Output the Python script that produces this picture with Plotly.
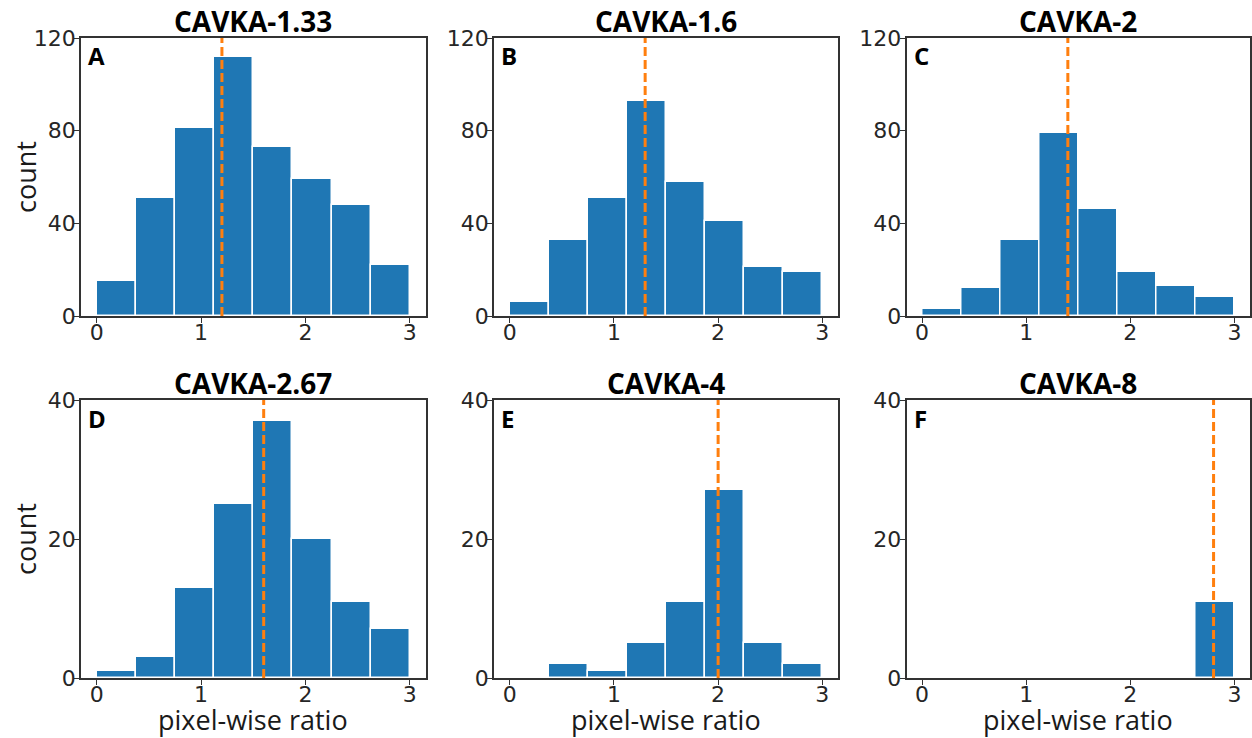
import numpy as np
import plotly.graph_objects as go

# Histogram bin edges shared by every panel (8 bins over 0..3)
bin_edges = np.linspace(0, 3, 9)

titles = ["CAVKA-1.33", "CAVKA-1.6", "CAVKA-2", "CAVKA-2.67", "CAVKA-4", "CAVKA-8"]
panel_letters = ["A", "B", "C", "D", "E", "F"]

counts_a = [15, 51, 81, 112, 73, 59, 48, 22]
counts_b = [6, 33, 51, 93, 58, 41, 21, 19]
counts_c = [3, 12, 33, 79, 46, 19, 13, 8]
counts_d = [1, 3, 13, 25, 37, 20, 11, 7]
counts_e = [0, 2, 1, 5, 11, 27, 5, 2]
counts_f = [0, 0, 0, 0, 0, 0, 0, 11]
all_counts = [counts_a, counts_b, counts_c, counts_d, counts_e, counts_f]

medians = [1.2, 1.3, 1.4, 1.6, 2.0, 2.8]

y_max = [120, 120, 120, 40, 40, 40]
y_ticks = [[0, 40, 80, 120]] * 3 + [[0, 20, 40]] * 3
x_ticks = [0, 1, 2, 3]

W, H = 1252, 738
# plot-area pixel boxes
col_px = [(81, 425.5), (494, 838), (906.5, 1250)]
row_px = [(38, 316), (400, 678)]

BLUE = "#1f77b4"
ORANGE = "#ff7f0e"
AXIS = "#333333"
TICK_FONT = dict(family="DejaVu Sans", size=22, color="#262626")
LABEL_FONT = dict(family="Open Sans", size=27, color="#1a1a1a")
TITLE_FONT = dict(family="Open Sans", size=28, color="#000000")
LETTER_FONT = dict(family="Open Sans", size=24, color="#000000")

centers = (bin_edges[:-1] + bin_edges[1:]) / 2
width = bin_edges[1] - bin_edges[0]

fig = go.Figure()
annotations = []
shapes = []

for i in range(6):
    r, c = divmod(i, 3)
    n = i + 1
    xname = "x" if n == 1 else f"x{n}"
    yname = "y" if n == 1 else f"y{n}"
    x0, x1 = col_px[c]
    y0, y1 = row_px[r]
    xdom = [x0 / W, x1 / W]
    ydom = [1 - y1 / H, 1 - y0 / H]

    fig.add_trace(go.Bar(
        x=centers, y=all_counts[i], width=width,
        marker=dict(color=BLUE, line=dict(color="white", width=1.5)),
        xaxis=xname, yaxis=yname, showlegend=False,
    ))

    axis_common = dict(
        showline=True, mirror=True, linecolor=AXIS, linewidth=1.5,
        ticks="outside", ticklen=5, tickwidth=1.2, tickcolor=AXIS,
        showgrid=False, zeroline=False, tickfont=TICK_FONT,
    )
    fig.layout[f"xaxis{'' if n == 1 else n}"] = dict(
        domain=xdom, range=[-0.15, 3.15], tickvals=x_ticks,
        anchor=yname, ticklabelstandoff=-9, **axis_common,
    )
    fig.layout[f"yaxis{'' if n == 1 else n}"] = dict(
        domain=ydom, range=[0, y_max[i]], tickvals=y_ticks[i],
        anchor=xname, ticklabelstandoff=-6, **axis_common,
    )

    # median marker
    shapes.append(dict(
        type="line", xref=xname, yref=f"{yname} domain",
        x0=medians[i], x1=medians[i], y0=0, y1=1,
        line=dict(color=ORANGE, width=3, dash="9px,4px"),
    ))

    # subplot title
    annotations.append(dict(
        text=f"<b>{titles[i]}</b>", xref="paper", yref="paper",
        x=(x0 + x1) / 2 / W, y=1 - (y0 - 17) / H,
        xanchor="center", yanchor="middle", showarrow=False, font=TITLE_FONT,
    ))
    # panel letter
    annotations.append(dict(
        text=f"<b>{panel_letters[i]}</b>", xref="paper", yref="paper",
        x=(x0 + 5) / W, y=1 - (y0 + 18) / H,
        xanchor="left", yanchor="middle", showarrow=False, font=LETTER_FONT,
    ))
    if c == 0:
        annotations.append(dict(
            text="count", xref="paper", yref="paper",
            x=25 / W, y=1 - (y0 + y1) / 2 / H, textangle=-90,
            xanchor="center", yanchor="middle", showarrow=False, font=LABEL_FONT,
        ))
    if r == 1:
        annotations.append(dict(
            text="pixel-wise ratio", xref="paper", yref="paper",
            x=(x0 + x1) / 2 / W, y=1 - 719 / H,
            xanchor="center", yanchor="middle", showarrow=False, font=LABEL_FONT,
        ))

fig.update_layout(
    width=W, height=H,
    margin=dict(l=0, r=0, t=0, b=0, autoexpand=False),
    paper_bgcolor="white", plot_bgcolor="white",
    bargap=0, annotations=annotations, shapes=shapes,
)

fig.write_html("out.html")
